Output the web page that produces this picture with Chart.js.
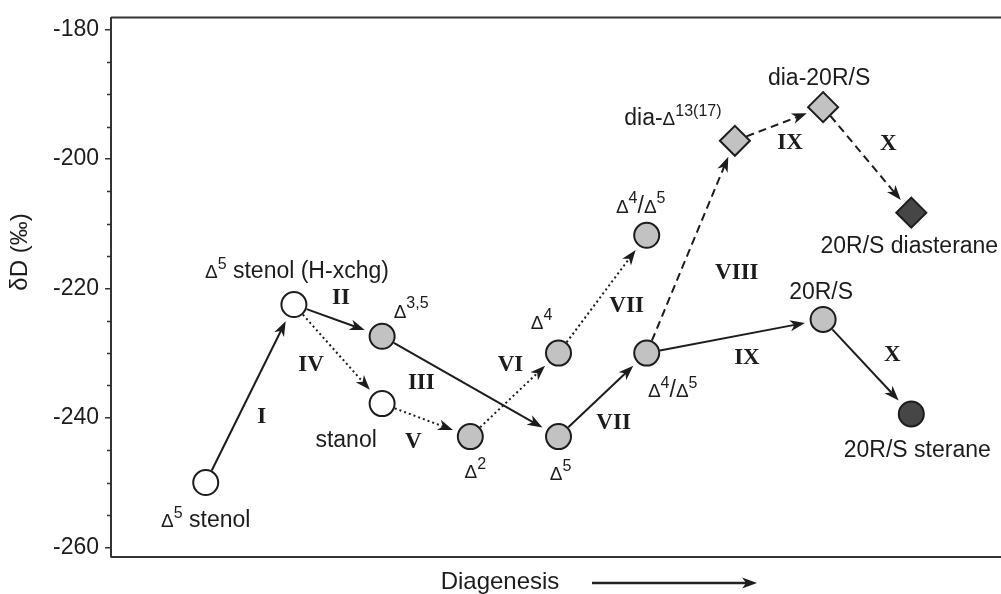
<!DOCTYPE html>
<html>
<head>
<meta charset="utf-8">
<title>Diagenesis pathways</title>
<script src="https://cdn.jsdelivr.net/npm/chart.js@4.4.1/dist/chart.umd.min.js"></script>
<style>
  html, body { margin: 0; padding: 0; background: #fff; }
  #wrap { width: 1001px; height: 594px; position: relative; }
</style>
</head>
<body>
<div id="wrap"><canvas id="chart"></canvas></div>
<script>
// Compounds along the diagenetic sequence (^{..} = superscript)
const stageLabels = [
  'Δ^{5} stenol', 'Δ^{5} stenol (H-xchg)', 'Δ^{3,5}', 'stanol', 'Δ^{2}', 'Δ^{5}', 'Δ^{4}',
  'Δ^{4}/Δ^{5}', 'Δ^{4}/Δ^{5}', 'dia-Δ^{13(17)}', 'dia-20R/S', '20R/S diasterane',
  '20R/S', '20R/S sterane'
];
const diagenesisStep = [1, 2, 3, 3, 4, 5, 5, 6, 6, 7, 8, 9, 8, 9];
const deltaD = [-250, -222.5, -227.4, -237.8, -242.9, -242.9, -230, -211.8, -230, -197.2, -192, -208.3, -224.8, -239.4];
const compoundClass = [
  'sterol', 'sterol', 'sterene', 'sterol', 'sterene', 'sterene', 'sterene',
  'sterene', 'sterene', 'sterene', 'sterene', 'alkane', 'sterene', 'alkane'
];
const rearranged = [false, false, false, false, false, false, false, false, false, true, true, true, false, false];

// Reaction steps: from compound -> to compound
const stepFrom = [0, 1, 1, 2, 3, 4, 6, 5, 8, 9, 10, 8, 12];
const stepTo = [1, 2, 3, 5, 4, 6, 7, 8, 9, 10, 11, 12, 13];
const stepName = ['I', 'II', 'IV', 'III', 'V', 'VI', 'VII', 'VII', 'VIII', 'IX', 'X', 'IX', 'X'];
const stepKind = ['solid', 'solid', 'dotted', 'solid', 'dotted', 'dotted', 'dotted', 'solid', 'dashed', 'dashed', 'dashed', 'solid', 'solid'];

const yAxisTitle = 'δD (‰)';
const xAxisTitle = 'Diagenesis';

const SANS = '"Liberation Sans", Arial, sans-serif';
const SERIF = '"Liberation Serif", "Times New Roman", serif';
const INK = '#1c1c1c';

const classFill = { sterol: '#ffffff', sterene: '#c2c2c2', alkane: '#464646' };
const dashes = { solid: [], dotted: [2, 3], dashed: [8, 5] };

// label offsets (px) from each marker / from each step midpoint
const labelOffset = [[0, 36], [3, -35], [29, -27], [-36, 35], [5, 33], [2, 35], [-17, -32],
  [-6, -31], [26, 36], [-62, -24], [-4, -30], [-2, 32], [-2, -29], [6, 35]];
const stepOffset = [[12, 21], [3, -24], [-27, 9], [-49, -5], [-13, 20], [-4, -32], [24, 10],
  [11, 26], [46, 24], [11, 17], [21, -18], [12, 20], [25, -14]];

function parseRich(markup) {
  const runs = [];
  const re = /\^\{([^}]*)\}|(Δ)|([^Δ^]+)/g;
  let m;
  while ((m = re.exec(markup))) {
    if (m[1] !== undefined) runs.push({ t: m[1], kind: 'sup' });
    else if (m[2]) runs.push({ t: m[2], kind: 'delta' });
    else runs.push({ t: m[3], kind: 'norm' });
  }
  return runs;
}

function runFont(kind, size) {
  if (kind === 'sup') return `${Math.round(size * 0.68)}px ${SANS}`;
  if (kind === 'delta') return `${Math.round(size * 0.84)}px ${SANS}`;
  return `${size}px ${SANS}`;
}

function drawRich(ctx, markup, cx, cy, size) {
  const runs = parseRich(markup);
  let total = 0;
  runs.forEach(r => {
    ctx.font = runFont(r.kind, size);
    r.w = ctx.measureText(r.t).width;
    total += r.w;
  });
  let x = cx - total / 2;
  const base = cy + size * 0.36;
  ctx.textAlign = 'left';
  ctx.textBaseline = 'alphabetic';
  runs.forEach(r => {
    ctx.font = runFont(r.kind, size);
    ctx.fillText(r.t, x, r.kind === 'sup' ? base - size * 0.4 : base);
    x += r.w;
  });
}

function markerReach(i, ux, uy) {
  // distance from marker centre to its outline along (ux, uy)
  if (rearranged[i]) return 16 / (Math.abs(ux) + Math.abs(uy));
  return 13.5;
}

function drawArrow(ctx, x0, y0, x1, y1, dash) {
  const dx = x1 - x0, dy = y1 - y0;
  const len = Math.hypot(dx, dy);
  const ux = dx / len, uy = dy / len;
  const head = 15, half = 5.5;
  ctx.setLineDash(dash);
  ctx.beginPath();
  ctx.moveTo(x0, y0);
  ctx.lineTo(x1 - ux * head * 0.7, y1 - uy * head * 0.7);
  ctx.stroke();
  ctx.setLineDash([]);
  ctx.beginPath();
  ctx.moveTo(x1, y1);
  ctx.lineTo(x1 - ux * head - uy * half, y1 - uy * head + ux * half);
  ctx.lineTo(x1 - ux * head * 0.72, y1 - uy * head * 0.72);
  ctx.lineTo(x1 - ux * head + uy * half, y1 - uy * head - ux * half);
  ctx.closePath();
  ctx.fill();
}

const pathwayPlugin = {
  id: 'pathways',
  beforeDatasetsDraw(chart) {
    const { ctx, chartArea: a, scales: { x, y } } = chart;
    ctx.save();
    ctx.strokeStyle = '#333';
    ctx.lineWidth = 2;
    // frame top and bottom
    ctx.beginPath();
    ctx.moveTo(a.left, a.top); ctx.lineTo(a.right + 2, a.top);
    ctx.moveTo(a.left, a.bottom); ctx.lineTo(a.right + 2, a.bottom);
    ctx.stroke();
    // minor ticks every 5 ‰
    ctx.lineWidth = 1.5;
    ctx.beginPath();
    for (let v = -260; v <= -180; v += 5) {
      if (v % 20 === 0) continue;
      const py = Math.round(y.getPixelForValue(v)) + 0.5;
      ctx.moveTo(a.left - 4, py); ctx.lineTo(a.left, py);
    }
    ctx.stroke();

    // reaction arrows
    ctx.strokeStyle = INK;
    ctx.fillStyle = INK;
    ctx.lineWidth = 2;
    stepFrom.forEach((f, k) => {
      const t = stepTo[k];
      const fx = x.getPixelForValue(diagenesisStep[f]), fy = y.getPixelForValue(deltaD[f]);
      const tx = x.getPixelForValue(diagenesisStep[t]), ty = y.getPixelForValue(deltaD[t]);
      const len = Math.hypot(tx - fx, ty - fy);
      const ux = (tx - fx) / len, uy = (ty - fy) / len;
      const r0 = markerReach(f, ux, uy), r1 = markerReach(t, ux, uy) + 5;
      drawArrow(ctx, fx + ux * r0, fy + uy * r0, tx - ux * r1, ty - uy * r1, dashes[stepKind[k]]);
    });
    ctx.restore();
  },
  afterDatasetsDraw(chart) {
    const { ctx, scales: { x, y } } = chart;
    ctx.save();
    ctx.fillStyle = INK;
    // compound names
    stageLabels.forEach((lab, i) => {
      const px = x.getPixelForValue(diagenesisStep[i]) + labelOffset[i][0];
      const py = y.getPixelForValue(deltaD[i]) + labelOffset[i][1];
      drawRich(ctx, lab, px, py, 23);
    });
    // step numerals
    ctx.font = `bold 23px ${SERIF}`;
    ctx.textAlign = 'center';
    ctx.textBaseline = 'alphabetic';
    stepName.forEach((name, k) => {
      const f = stepFrom[k], t = stepTo[k];
      const mx = (x.getPixelForValue(diagenesisStep[f]) + x.getPixelForValue(diagenesisStep[t])) / 2;
      const my = (y.getPixelForValue(deltaD[f]) + y.getPixelForValue(deltaD[t])) / 2;
      ctx.fillText(name, mx + stepOffset[k][0], my + stepOffset[k][1] + 8);
    });
    // axis titles
    ctx.font = `24px ${SANS}`;
    ctx.save();
    ctx.translate(20, 252);
    ctx.rotate(-Math.PI / 2);
    ctx.textAlign = 'center';
    ctx.textBaseline = 'middle';
    ctx.fillText(yAxisTitle, 0, 0);
    ctx.restore();

    ctx.font = `24px ${SANS}`;
    ctx.textAlign = 'center';
    ctx.textBaseline = 'middle';
    ctx.fillText(xAxisTitle, 500, 582);
    ctx.strokeStyle = '#222';
    ctx.lineWidth = 2.5;
    drawArrow(ctx, 592, 583, 757, 583, []);
    ctx.restore();
  }
};

new Chart(document.getElementById('chart'), {
  type: 'scatter',
  data: {
    datasets: [{
      label: 'δD',
      data: deltaD.map((v, i) => ({ x: diagenesisStep[i], y: v })),
      pointStyle: ctx => rearranged[ctx.dataIndex] ? 'rectRot' : 'circle',
      pointRadius: ctx => rearranged[ctx.dataIndex] ? 15 : 12.5,
      pointBackgroundColor: ctx => classFill[compoundClass[ctx.dataIndex]],
      pointBorderColor: INK,
      pointBorderWidth: 2,
      clip: false
    }]
  },
  options: {
    responsive: true,
    maintainAspectRatio: false,
    animation: false,
    events: [],
    layout: { autoPadding: false, padding: { top: 15, bottom: 37, left: 0, right: 0 } },
    plugins: { legend: { display: false }, tooltip: { enabled: false } },
    scales: {
      x: { type: 'linear', display: false, min: -0.074, max: 10.017 },
      y: {
        min: -261.5,
        max: -178.15,
        afterFit: s => { s.width = 111; },
        ticks: {
          stepSize: 20,
          includeBounds: false,
          padding: 6,
          color: INK,
          font: { family: SANS, size: 23, lineHeight: 1 }
        },
        grid: { drawOnChartArea: false, drawTicks: true, tickLength: 6, color: '#333', lineWidth: 1.5 },
        border: { display: true, color: '#333', width: 2 }
      }
    }
  },
  plugins: [pathwayPlugin]
});
</script>
</body>
</html>
